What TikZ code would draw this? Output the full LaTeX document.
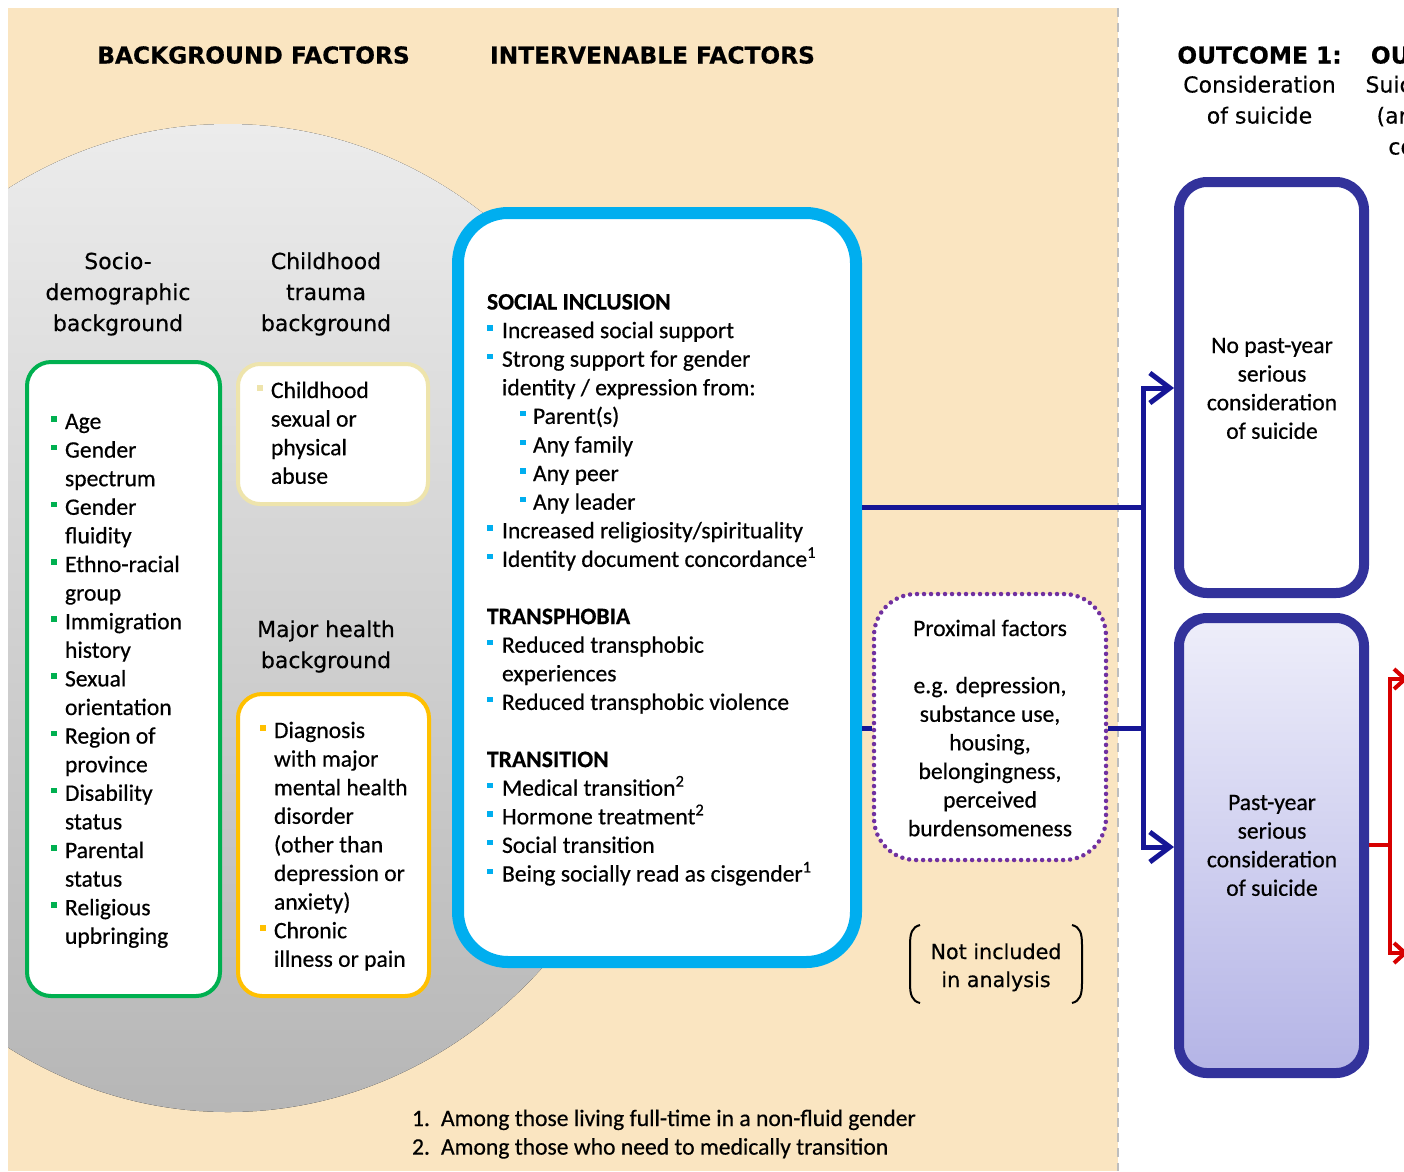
\documentclass[tikz,border=0pt]{standalone}
\usepackage{fontspec}
\setmainfont{Carlito}[FakeBold=0.5]
\newfontfamily\tah{DejaVu Sans}[FakeBold=0.4]
\usetikzlibrary{arrows.meta}
\definecolor{beige}{RGB}{250,229,193}
\definecolor{cyanb}{RGB}{0,174,239}
\definecolor{grn}{RGB}{0,176,80}
\definecolor{paley}{RGB}{238,228,172}
\definecolor{gold}{RGB}{255,192,0}
\definecolor{dblue}{RGB}{50,50,155}
\definecolor{navy}{RGB}{22,22,150}
\definecolor{purp}{RGB}{112,48,160}
\definecolor{redc}{RGB}{215,0,0}
\newcommand{\bul}[2][14pt]{\makebox[#1][l]{\textcolor{#2}{\rule[7.5pt]{5.5pt}{5.5pt}}}}
\newcommand{\ind}[1][14pt]{\hspace*{#1}}
\begin{document}
\begin{tikzpicture}[x=1pt,y=-1pt,
  txt/.style={inner sep=0pt, outer sep=0pt, font=\fontsize{23.6}{28.6}\selectfont},
  hd/.style={inner sep=0pt, outer sep=0pt, font=\tah\fontsize{22}{31}\selectfont},
  hdb/.style={inner sep=0pt, outer sep=0pt, font=\tah\bfseries\fontsize{23.3}{28}\selectfont},
  panel/.style={rectangle, inner sep=0pt, fill=white},
  conn/.style={draw=navy, line width=5pt, line join=miter},
  barrow/.style={-{Straight Barb[length=20pt,width=30pt]}},
  rconn/.style={draw=redc, line width=4pt, line join=miter},
  rarrow/.style={-{Straight Barb[length=11pt,width=20pt]}}
]
\useasboundingbox (0,0) rectangle (1404,1171);
\clip (0,0) rectangle (1404,1171);

% background
\fill[beige] (8,8) rectangle (1118,1171);
\begin{scope}
  \clip (8,8) rectangle (1118,1171);
  \fill[top color={rgb,255:red,236;green,236;blue,236}, bottom color={rgb,255:red,182;green,182;blue,182}] (228,618) ellipse[x radius=445pt, y radius=494pt];
\end{scope}
\draw[draw={rgb,255:red,190;green,190;blue,190}, line width=2pt, dash pattern=on 9pt off 6pt] (1118,8) -- (1118,1171);

% headers
\node[hdb, anchor=base] (hbg) at (253.5,63.5) {BACKGROUND FACTORS};
\node[hdb, anchor=base] (hint) at (652.5,63.5) {INTERVENABLE FACTORS};
\node[hdb, anchor=base] (ho1) at (1259.5,63.5) {OUTCOME 1:};
\node[hd, anchor=base] (ho1t) at (1259.5,92.5) {\begin{tabular}[t]{@{}c@{}}Consideration\\of suicide\end{tabular}};
\node[hdb, anchor=base] (ho2) at (1453,63.5) {OUTCOME 2:};
\node[hd, anchor=base] (ho2t) at (1453,92.5) {\begin{tabular}[t]{@{}c@{}}Suicide attempt\\(among those\\considered)\end{tabular}};

% background sub-headings
\node[hd, anchor=base] (sochd) at (118,269) {\begin{tabular}[t]{@{}c@{}}Socio-\\demographic\\background\end{tabular}};
\node[hd, anchor=base] (chhd) at (326,269) {\begin{tabular}[t]{@{}c@{}}Childhood\\trauma\\background\end{tabular}};
\node[hd, anchor=base] (mhhd) at (326,637) {\begin{tabular}[t]{@{}c@{}}Major health\\background\end{tabular}};

% boxes
\node[panel, draw=grn, line width=4pt, rounded corners=24pt, minimum width=193pt, minimum height=634pt] (socbox) at (123.5,679) {};
\node[panel, draw=paley, line width=4pt, rounded corners=22pt, minimum width=190pt, minimum height=140pt] (chbox) at (333,434) {};
\node[panel, draw=gold, line width=4pt, rounded corners=24pt, minimum width=191pt, minimum height=302pt] (mhbox) at (333.5,845) {};
\node[panel, draw=cyanb, line width=12pt, rounded corners=50pt, minimum width=398pt, minimum height=749pt] (inter) at (657,587.5) {};
\node[panel, draw=purp, line width=4.5pt, line cap=round, dash pattern=on 0pt off 7pt, rounded corners=42pt, minimum width=232pt, minimum height=266pt] (prox) at (990,727) {};
\node[panel, draw=dblue, line width=10pt, rounded corners=28pt, minimum width=185pt, minimum height=411pt] (out1) at (1271.5,387.5) {};
\node[rectangle, inner sep=0pt, draw=dblue, line width=10pt, rounded corners=28pt, minimum width=185pt, minimum height=455pt,
  top color={rgb,255:red,238;green,238;blue,250}, bottom color={rgb,255:red,180;green,180;blue,230}] (out2) at (1271.5,845.5) {};

% box texts
\node[txt, anchor=base west] (soctx) at (51,429) {\begin{tabular}[t]{@{}l@{}}
\bul{grn}Age\\
\bul{grn}Gender\\
\ind spectrum\\
\bul{grn}Gender\\
\ind fluidity\\
\bul{grn}Ethno-racial\\
\ind group\\
\bul{grn}Immigration\\
\ind history\\
\bul{grn}Sexual\\
\ind orientation\\
\bul{grn}Region of\\
\ind province\\
\bul{grn}Disability\\
\ind status\\
\bul{grn}Parental\\
\ind status\\
\bul{grn}Religious\\
\ind upbringing
\end{tabular}};

\node[txt, anchor=base west] (chtx) at (257,398) {\begin{tabular}[t]{@{}l@{}}
\bul{paley}Childhood\\
\ind sexual or\\
\ind physical\\
\ind abuse
\end{tabular}};

\node[txt, anchor=base west] (mhtx) at (260,738) {\begin{tabular}[t]{@{}l@{}}
\bul{gold}Diagnosis\\
\ind with major\\
\ind mental health\\
\ind disorder\\
\ind (other than\\
\ind depression or\\
\ind anxiety)\\
\bul{gold}Chronic\\
\ind illness or pain
\end{tabular}};

\node[txt, anchor=base west] (inttx) at (487,309.5) {\begin{tabular}[t]{@{}l@{}}
\textbf{SOCIAL INCLUSION}\\
\bul[15pt]{cyanb}Increased social support\\
\bul[15pt]{cyanb}Strong support for gender\\
\ind[15pt]identity / expression from:\\
\ind[33pt]\bul[13pt]{cyanb}Parent(s)\\
\ind[33pt]\bul[13pt]{cyanb}Any family\\
\ind[33pt]\bul[13pt]{cyanb}Any peer\\
\ind[33pt]\bul[13pt]{cyanb}Any leader\\
\bul[15pt]{cyanb}Increased religiosity/spirituality\\
\bul[15pt]{cyanb}Identity document concordance\textsuperscript{1}\\
\\
\textbf{TRANSPHOBIA}\\
\bul[15pt]{cyanb}Reduced transphobic\\
\ind[15pt]experiences\\
\bul[15pt]{cyanb}Reduced transphobic violence\\
\\
\textbf{TRANSITION}\\
\bul[15pt]{cyanb}Medical transition\textsuperscript{2}\\
\bul[15pt]{cyanb}Hormone treatment\textsuperscript{2}\\
\bul[15pt]{cyanb}Social transition\\
\bul[15pt]{cyanb}Being socially read as cisgender\textsuperscript{1}
\end{tabular}};

\node[txt, anchor=base] (proxtx) at (990,636) {\begin{tabular}[t]{@{}c@{}}
Proximal factors\\
\\
e.g. depression,\\
substance use,\\
housing,\\
belongingness,\\
perceived\\
burdensomeness
\end{tabular}};

\node[txt, anchor=base] (o1tx) at (1272,353) {\begin{tabular}[t]{@{}c@{}}
No past-year\\serious\\consideration\\of suicide
\end{tabular}};
\node[txt, anchor=base] (o2tx) at (1272,810) {\begin{tabular}[t]{@{}c@{}}
Past-year\\serious\\consideration\\of suicide
\end{tabular}};

\node[inner sep=0pt, font=\tah\fontsize{20.7}{28}\selectfont, anchor=base] (notinc) at (996,959) {\begin{tabular}[t]{@{}c@{}}Not included\\in analysis\end{tabular}};
\draw[line width=2pt] (920,925) .. controls (912,927) and (910,933) .. (910,945) -- (910,983) .. controls (910,995) and (912,1001) .. (920,1003);
\draw[line width=2pt] (1072,925) .. controls (1080,927) and (1082,933) .. (1082,945) -- (1082,983) .. controls (1082,995) and (1080,1001) .. (1072,1003);

\node[txt, anchor=base west] (foot) at (412,1126) {\begin{tabular}[t]{@{}l@{}}
\makebox[29pt][l]{1.}Among those living full-time in a non-fluid gender\\
\makebox[29pt][l]{2.}Among those who need to medically transition
\end{tabular}};

% connectors
\coordinate (j1) at (1143,507);
\coordinate (j2) at (1143,728);
\coordinate (jtop) at (1143,388);
\coordinate (jbot) at (1143,847);
\draw[conn] (inter.east |- j1) -- (j1);
\draw[conn] (inter.east |- j2) -- (prox.west |- j2);
\draw[conn] (prox.east |- j2) -- (j2);
\draw[conn, barrow] (j1) -- (jtop) -- (out1.west |- jtop);
\draw[conn, barrow] (j1) -- (jbot) -- (out2.west |- jbot);

\coordinate (r0) at (1390,845);
\coordinate (rt) at (1408,679);
\coordinate (rb) at (1408,953);
\draw[rconn] (out2.east |- r0) -- (r0);
\draw[rconn, rarrow] (r0) -- (r0 |- rt) -- (rt);
\draw[rconn, rarrow] (r0) -- (r0 |- rb) -- (rb);
\end{tikzpicture}
\end{document}
